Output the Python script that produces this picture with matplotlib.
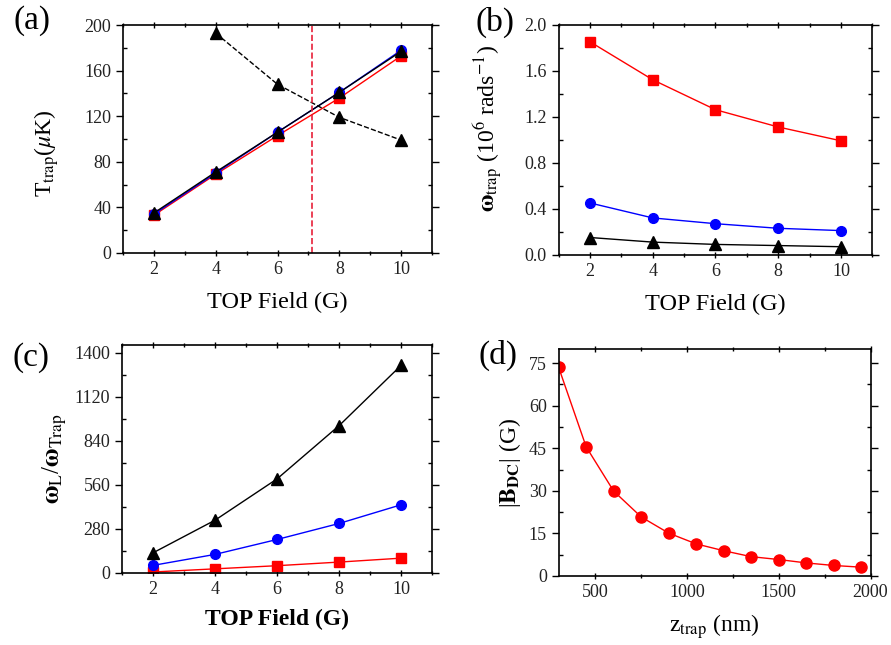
import matplotlib.pyplot as plt
from matplotlib.ticker import MultipleLocator

plt.rcParams['font.family'] = ['Liberation Serif', 'DejaVu Serif']
plt.rcParams['mathtext.fontset'] = 'stix'

# data
field = [2, 4, 6, 8, 10]

# (a) trap temperature
t_red = [33, 69, 103, 136, 173]
t_blue = [34, 70, 106, 141, 178]
t_black = [35, 71, 106, 141, 177]
field_dash = [4, 6, 8, 10]
t_dash = [193, 148, 119, 99]
b_cross = 7.12

# (b) trap frequency
w_red = [1.85, 1.52, 1.26, 1.11, 0.99]
w_blue = [0.45, 0.32, 0.27, 0.23, 0.21]
w_black = [0.15, 0.11, 0.09, 0.08, 0.07]

# (c) ratio
r_red = [5, 25, 45, 68, 93]
r_blue = [47, 117, 212, 314, 433]
r_black = [127, 335, 598, 937, 1321]

# (d) bias field vs distance
z_trap = [300, 450, 600, 750, 900, 1050, 1200, 1350, 1500, 1650, 1800, 1950]
b_dc = [73.5, 45.5, 29.9, 20.8, 15.1, 11.3, 8.9, 6.8, 5.8, 4.6, 3.7, 3.1]

fig = plt.figure(figsize=(8.91, 6.45), dpi=100)
ax_a = fig.add_axes([0.138, 0.608, 0.347, 0.353])
ax_b = fig.add_axes([0.627, 0.605, 0.352, 0.357])
ax_c = fig.add_axes([0.137, 0.112, 0.348, 0.353])
ax_d = fig.add_axes([0.627, 0.107, 0.350, 0.352])


def style(ax):
    ax.tick_params(which='both', labelsize=13, width=1.0, labelcolor='#222222')
    ax.tick_params(which='major', length=5)
    ax.tick_params(which='minor', length=3)
    ax.tick_params(axis='both', which='both', top=True, right=True,
                   direction='in')
    ax.tick_params(axis='x', which='both', bottom=True, direction='inout')
    ax.tick_params(axis='y', which='both', left=True)
    ax.tick_params(axis='y', which='major', direction='out')
    for s in ax.spines.values():
        s.set_linewidth(1.2)


# (a)
ax_a.plot(field, t_red, '-s', color='red', ms=7, lw=1)
ax_a.plot(field, t_blue, '-o', color='blue', ms=7, lw=1)
ax_a.plot(field, t_black, '-^', color='black', ms=9, lw=1)
ax_a.plot(field_dash, t_dash, '--^', color='black', ms=9, lw=1)
ax_a.axvline(b_cross, color='#e8203a', ls='--', lw=1.2)
ax_a.set_xlim(1, 11)
ax_a.set_ylim(0, 200)
ax_a.xaxis.set_major_locator(MultipleLocator(2))
ax_a.xaxis.set_minor_locator(MultipleLocator(1))
ax_a.yaxis.set_major_locator(MultipleLocator(40))
ax_a.yaxis.set_minor_locator(MultipleLocator(20))
ax_a.set_xlabel('TOP Field (G)', fontsize=17.5, labelpad=10)
ax_a.set_ylabel(r'T$_{\mathrm{trap}}$($\mu$K)', fontsize=17)
ax_a.yaxis.set_label_coords(-0.2, 0.44)
style(ax_a)

# (b)
ax_b.plot(field, w_red, '-s', color='red', ms=7, lw=1)
ax_b.plot(field, w_blue, '-o', color='blue', ms=7, lw=1)
ax_b.plot(field, w_black, '-^', color='black', ms=9, lw=1)
ax_b.set_xlim(1, 11)
ax_b.set_ylim(0, 2.0)
ax_b.xaxis.set_major_locator(MultipleLocator(2))
ax_b.xaxis.set_minor_locator(MultipleLocator(1))
ax_b.yaxis.set_major_locator(MultipleLocator(0.4))
ax_b.yaxis.set_minor_locator(MultipleLocator(0.2))
ax_b.yaxis.set_major_formatter(plt.FormatStrFormatter('%.1f'))
ax_b.set_xlabel('TOP Field (G)', fontsize=17.5, labelpad=10)
ax_b.set_ylabel(r'$\mathbf{\omega}_{\mathrm{trap}}$ (10$^{6}$ rads$^{-1}$)', fontsize=17)
ax_b.yaxis.set_label_coords(-0.17, 0.55)
style(ax_b)

# (c)
ax_c.plot(field, r_red, '-s', color='red', ms=7, lw=1)
ax_c.plot(field, r_blue, '-o', color='blue', ms=7, lw=1)
ax_c.plot(field, r_black, '-^', color='black', ms=9, lw=1)
ax_c.set_xlim(1, 11)
ax_c.set_ylim(0, 1450)
ax_c.xaxis.set_major_locator(MultipleLocator(2))
ax_c.xaxis.set_minor_locator(MultipleLocator(1))
ax_c.yaxis.set_major_locator(MultipleLocator(280))
ax_c.yaxis.set_minor_locator(MultipleLocator(140))
ax_c.set_xlabel('TOP Field (G)', fontsize=17, fontweight='bold', labelpad=8)
ax_c.set_ylabel(r'$\mathbf{\omega}_{\mathrm{L}}$/$\mathbf{\omega}_{\mathrm{Trap}}$', fontsize=18)
style(ax_c)

# (d)
ax_d.plot(z_trap, b_dc, '-o', color='red', ms=8, lw=1)
ax_d.set_xlim(300, 2000)
ax_d.set_ylim(0, 80)
ax_d.xaxis.set_major_locator(MultipleLocator(500))
ax_d.xaxis.set_minor_locator(MultipleLocator(250))
ax_d.yaxis.set_major_locator(MultipleLocator(15))
ax_d.yaxis.set_minor_locator(MultipleLocator(7.5))
ax_d.set_xlabel(r'z$_{\mathrm{trap}}$ (nm)', fontsize=17, labelpad=8)
ax_d.set_ylabel(r'|$\mathbf{B_{DC}}$| (G)', fontsize=17)
style(ax_d)

for lab, x, y in [('(a)', 0.036, 0.968), ('(b)', 0.556, 0.966),
                  ('(c)', 0.035, 0.446), ('(d)', 0.559, 0.449)]:
    fig.text(x, y, lab, fontsize=24, ha='center', va='center')

fig.savefig('out.png', dpi=100)
